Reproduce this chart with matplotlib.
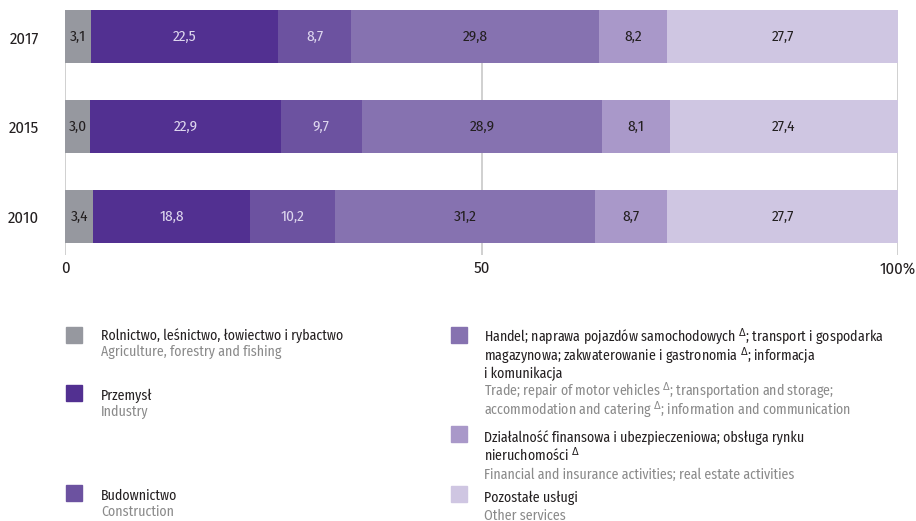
import matplotlib.pyplot as plt
from matplotlib.patches import Rectangle

plt.rcParams['font.family'] = ['Fira Sans Condensed', 'PT Sans Narrow', 'Archivo Narrow',
                               'Roboto', 'DejaVu Sans']

years = ["2010", "2015", "2017"]
agriculture = [3.4, 3.0, 3.1]
industry = [18.8, 22.9, 22.5]
construction = [10.2, 9.7, 8.7]
trade = [31.2, 28.9, 29.8]
finance = [8.7, 8.1, 8.2]
other = [27.7, 27.4, 27.7]

series = [agriculture, industry, construction, trade, finance, other]
colors = ["#96989f", "#523091", "#6c52a0", "#8672b0", "#a998c9", "#cfc6e2"]
label_colors = ["#231f20", "#ddd6ee", "#ddd6ee", "#231f20", "#231f20", "#231f20"]

legend_pl = [
    ["Rolnictwo, leśnictwo, łowiectwo i rybactwo"],
    ["Przemysł"],
    ["Budownictwo"],
    ["Handel; naprawa pojazdów samochodowych $^{\\Delta}$; transport i gospodarka",
     "magazynowa; zakwaterowanie i gastronomia $^{\\Delta}$; informacja",
     "i komunikacja"],
    ["Działalność finansowa i ubezpieczeniowa; obsługa rynku",
     "nieruchomości $^{\\Delta}$"],
    ["Pozostałe usługi"],
]
legend_en = [
    ["Agriculture, forestry and fishing"],
    ["Industry"],
    ["Construction"],
    ["Trade; repair of motor vehicles $^{\\Delta}$; transportation and storage;",
     "accommodation and catering $^{\\Delta}$; information and communication"],
    ["Financial and insurance activities; real estate activities"],
    ["Other services"],
]

W, H = 916, 521
fig = plt.figure(figsize=(W / 100, H / 100), dpi=100)
ax = fig.add_axes([65 / W, 1 - 255 / H, (898 - 65) / W, 245 / H])

ypos = list(range(len(years)))
left = [0.0] * len(years)
for vals, c, tc in zip(series, colors, label_colors):
    bars = ax.barh(ypos, vals, left=left, height=0.59, color=c, zorder=2)
    ax.bar_label(bars, labels=[f"{v:.1f}".replace(".", ",") for v in vals],
                 label_type="center", color=tc, fontsize=11)
    left = [l + v for l, v in zip(left, vals)]

for x in (0, 50, 100):
    ax.axvline(x, color="#c8c8c8", lw=1.2, zorder=1)

ax.set_xlim(0, 100)
ax.set_ylim(-0.428, 2.3)
ax.set_xticks([0, 50, 100])
ax.set_xticklabels(["0", "50", "100%"], fontsize=12, color="#231f20")
ax.set_yticks(ypos)
ax.set_yticklabels(years, fontsize=12, color="#231f20")
ax.tick_params(length=0)
ax.tick_params(axis="x", pad=4)
ax.tick_params(axis="y", pad=19)
for s in ax.spines.values():
    s.set_visible(False)


def fx(px):
    return px / W


def fy(py):
    return 1 - py / H


# legend: (square x, square top y, text x, first baseline y)
entries = [
    (66, 327, 101, 340),
    (66, 385, 101, 400),
    (66, 485, 101, 500),
    (451, 327, 484, 341),
    (451, 426, 484, 442),
    (451, 486, 484, 502),
]
step = 18.5
for i, (sx, sy, tx, by) in enumerate(entries):
    fig.patches.append(Rectangle((fx(sx), fy(sy + 16)), 16 / W, 16 / H,
                                 transform=fig.transFigure, color=colors[i]))
    lines = [(t, "#231f20") for t in legend_pl[i]] + [(t, "#8a8a8a") for t in legend_en[i]]
    for k, (t, c) in enumerate(lines):
        y = by + k * (step if i >= 3 else 16)
        fig.text(fx(tx), fy(y), t, ha="left", va="baseline", fontsize=10, color=c)

fig.savefig("out.png", dpi=100)
